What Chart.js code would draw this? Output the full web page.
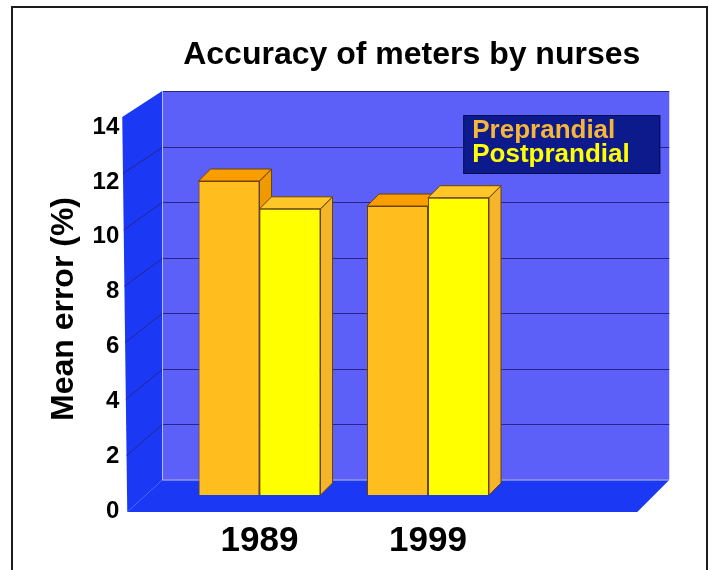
<!DOCTYPE html>
<html>
<head>
<meta charset="utf-8">
<title>Accuracy of meters by nurses</title>
<script src="https://cdn.jsdelivr.net/npm/chart.js@4.4.1/dist/chart.umd.min.js"></script>
<style>
  html, body { margin: 0; padding: 0; background: #fff; }
  #wrap { width: 709px; height: 570px; }
</style>
</head>
<body>
<div id="wrap"><canvas id="meterChart" width="709" height="570"></canvas></div>
<script>
// Data
const years = ['1989', '1999'];
const preprandial = [11.3, 10.4];
const postprandial = [10.3, 10.7];
const yTicks = [0, 2, 4, 6, 8, 10, 12, 14];
const seriesNames = ['Preprandial', 'Postprandial'];
const chartTitle = 'Accuracy of meters by nurses';
const yTitle = 'Mean error (%)';

// Colours
const prepColors = { front: '#ffbe1e', top: '#f99d00', side: '#ee9a00' };
const postColors = { front: '#ffff00', top: '#ffc62a', side: '#f4b52a' };
const edgeColor = '#6b4300';
const backWallColor = '#5c5ff8';
const sideWallColor = '#1b38f5';
const gridColor = '#26268a';
const legendBg = '#0c1a8c';
const FONT = '"Liberation Sans", Arial, Helvetica, sans-serif';

Chart.defaults.font.family = FONT;
Chart.defaults.color = '#000';

// Depth of the bars and the offsets of the walls from the bar plane
const BAR_DEPTH = 12;
const geo = {
    backDx: -13, backDy: -15,        // back wall relative to the chart area
    backRightExtra: 157,
    frontDxBottom: -48, frontDxTop: -53,
    frontDyBottom: 17, frontDyTop: 11,
    frontRightExtra: 125
};

// Draws the 3D walls, grid, bar sides and tops, legend, title and frame
const boxPlugin = {
    id: 'box3d',
    beforeDatasetsDraw(chart) {
        const ctx = chart.ctx;
        const ca = chart.chartArea;
        const y = chart.scales.y;
        const vTop = yTicks[yTicks.length - 1];
        const backL = ca.left + geo.backDx;
        const backR = ca.right + geo.backRightExtra;
        const backY = v => y.getPixelForValue(v) + geo.backDy;
        const t = v => v / vTop;
        const frontX = v => ca.left + geo.frontDxBottom + (geo.frontDxTop - geo.frontDxBottom) * t(v);
        const frontY = v => y.getPixelForValue(v) + geo.frontDyBottom + (geo.frontDyTop - geo.frontDyBottom) * t(v);
        const frontR = ca.right + geo.frontRightExtra;

        ctx.save();
        // back wall
        ctx.fillStyle = backWallColor;
        ctx.fillRect(backL, backY(vTop), backR - backL, backY(0) - backY(vTop));

        // left side wall
        ctx.fillStyle = sideWallColor;
        ctx.beginPath();
        ctx.moveTo(backL, backY(vTop));
        ctx.lineTo(backL, backY(0));
        ctx.lineTo(frontX(0), frontY(0));
        ctx.lineTo(frontX(vTop), frontY(vTop));
        ctx.closePath();
        ctx.fill();

        // floor
        ctx.beginPath();
        ctx.moveTo(backL, backY(0));
        ctx.lineTo(backR, backY(0));
        ctx.lineTo(frontR, frontY(0));
        ctx.lineTo(frontX(0), frontY(0));
        ctx.closePath();
        ctx.fill();

        // grid lines on back and side walls
        ctx.strokeStyle = gridColor;
        ctx.lineWidth = 1;
        yTicks.forEach(v => {
            if (v === 0 || v === vTop) return;
            const by = Math.round(backY(v)) + 0.5;
            ctx.beginPath();
            ctx.moveTo(backR, by);
            ctx.lineTo(backL, by);
            ctx.lineTo(frontX(v), frontY(v));
            ctx.stroke();
        });
        // back wall edges
        ctx.beginPath();
        ctx.moveTo(backL, Math.round(backY(vTop)) + 0.5);
        ctx.lineTo(backR, Math.round(backY(vTop)) + 0.5);
        ctx.stroke();
        ctx.strokeStyle = '#b8bbf0';
        ctx.beginPath();
        ctx.moveTo(Math.round(backL) + 0.5, backY(vTop));
        ctx.lineTo(Math.round(backL) + 0.5, backY(0));
        ctx.lineTo(backR, backY(0));
        ctx.stroke();

        // sides and tops of the bars (fronts are drawn by Chart.js)
        const faces = [prepColors, postColors];
        ctx.strokeStyle = edgeColor;
        ctx.lineJoin = 'round';
        for (let i = 0; i < years.length; i++) {
            chart.data.datasets.forEach((ds, di) => {
                const bar = chart.getDatasetMeta(di).data[i];
                const p = bar.getProps(['x', 'y', 'base', 'width'], true);
                const l = p.x - p.width / 2, r = p.x + p.width / 2;
                const d = BAR_DEPTH;
                // side
                ctx.fillStyle = faces[di].side;
                ctx.beginPath();
                ctx.moveTo(r, p.y);
                ctx.lineTo(r + d, p.y - d);
                ctx.lineTo(r + d, p.base - d);
                ctx.lineTo(r, p.base);
                ctx.closePath();
                ctx.fill();
                ctx.stroke();
                // top
                ctx.fillStyle = faces[di].top;
                ctx.beginPath();
                ctx.moveTo(l, p.y);
                ctx.lineTo(l + d, p.y - d);
                ctx.lineTo(r + d, p.y - d);
                ctx.lineTo(r, p.y);
                ctx.closePath();
                ctx.fill();
                ctx.stroke();
            });
        }
        ctx.restore();
    },
    afterDraw(chart) {
        const ctx = chart.ctx;
        const ca = chart.chartArea;
        const y = chart.scales.y;
        const vTop = yTicks[yTicks.length - 1];
        const backR = ca.right + geo.backRightExtra;
        const backL = ca.left + geo.backDx;
        const backTop = y.getPixelForValue(vTop) + geo.backDy;

        ctx.save();
        // legend box
        const bw = 197, bh = 59;
        const bx = backR - 9 - bw, by = backTop + 24;
        ctx.fillStyle = legendBg;
        ctx.fillRect(bx, by, bw, bh);
        ctx.strokeStyle = '#05104a';
        ctx.strokeRect(bx + 0.5, by + 0.5, bw - 1, bh - 1);
        ctx.font = 'bold 26px ' + FONT;
        ctx.textBaseline = 'alphabetic';
        ctx.textAlign = 'left';
        chart.data.datasets.forEach((ds, di) => {
            ctx.fillStyle = di === 0 ? '#f7b63a' : ds.backgroundColor;
            ctx.fillText(ds.label, bx + 9, by + 23 + di * 24);
        });

        // title
        ctx.fillStyle = '#000';
        ctx.font = 'bold 32px ' + FONT;
        ctx.textAlign = 'center';
        ctx.fillText(chartTitle, (backL + backR) / 2 - 4, 64);

        // outer frame
        ctx.strokeStyle = '#1c1c1c';
        ctx.lineWidth = 2;
        ctx.strokeRect(12, 7, 695, 600);
        ctx.restore();
    }
};

const meterCtx = document.getElementById('meterChart').getContext('2d');
new Chart(meterCtx, {
    type: 'bar',
    data: {
        labels: years,
        datasets: [{
            label: seriesNames[0],
            data: preprandial,
            backgroundColor: prepColors.front,
            borderColor: edgeColor,
            borderWidth: 1,
            categoryPercentage: 0.724,
            barPercentage: 1.0,
            yAxisID: 'y'
        }, {
            label: seriesNames[1],
            data: postprandial,
            backgroundColor: postColors.front,
            borderColor: edgeColor,
            borderWidth: 1,
            categoryPercentage: 0.724,
            barPercentage: 1.0,
            yAxisID: 'y'
        }]
    },
    options: {
        responsive: false,
        animation: false,
        devicePixelRatio: 1,
        layout: {
            padding: { left: 41, right: 196.75, top: 106, bottom: 8 }
        },
        scales: {
            x: {
                offset: true,
                grid: { display: false, drawTicks: false },
                border: { display: false },
                ticks: {
                    color: '#000',
                    padding: 8,
                    font: { size: 35, weight: 'bold' }
                },
                afterFit: scale => { scale.height = 50; }
            },
            y: {
                display: false,
                min: -0.61,
                max: 14
            },
            yl: {
                position: 'left',
                min: -0.04,
                max: 14.77,
                grid: { display: false, drawTicks: false },
                border: { display: false },
                afterBuildTicks: scale => {
                    scale.ticks = yTicks.map(v => ({ value: v }));
                },
                ticks: {
                    color: '#000',
                    padding: 56,
                    font: { size: 24, weight: 'bold' }
                },
                title: {
                    display: true,
                    text: yTitle,
                    color: '#000',
                    font: { size: 32, weight: 'bold' },
                    padding: { top: 4, bottom: 0 }
                },
                // fixed width; the big label padding must not shrink the plot
                afterFit: scale => {
                    scale.width = 134.25;
                    scale.paddingTop = 0;
                    scale.paddingBottom = 0;
                }
            }
        },
        plugins: {
            legend: { display: false },
            tooltip: { enabled: false }
        }
    },
    plugins: [boxPlugin]
});
</script>
</body>
</html>
